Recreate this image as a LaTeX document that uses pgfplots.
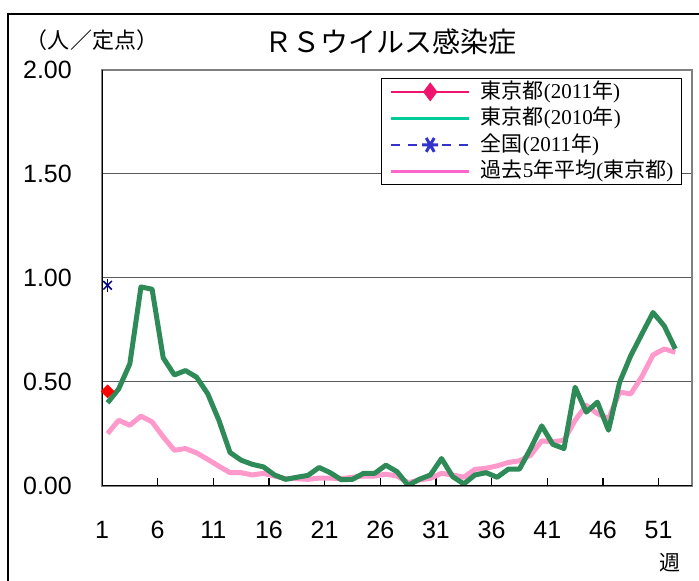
\documentclass[border=0pt]{standalone}
\usepackage{fontspec}
\setmainfont{Liberation Sans}
\newfontfamily\cjk{Noto Sans CJK JP}
\newfontfamily\sr{Liberation Serif}
\usepackage{pgfplots}
\pgfplotsset{compat=1.18}

\definecolor{gline}{RGB}{46,139,87}
\definecolor{gleg}{RGB}{0,204,153}
\definecolor{pline}{RGB}{255,153,204}
\definecolor{pleg}{RGB}{255,102,204}
\definecolor{rleg}{RGB}{240,20,110}
\definecolor{bleg}{RGB}{51,51,204}
\definecolor{bstar}{RGB}{0,0,128}
\definecolor{gridc}{RGB}{90,90,90}

% week, value
\pgfplotstableread{
w v
1 0.400
2 0.467
3 0.587
4 0.957
5 0.946
6 0.616
7 0.534
8 0.555
9 0.523
10 0.443
11 0.316
12 0.161
13 0.124
14 0.104
15 0.092
16 0.053
17 0.032
18 0.042
19 0.051
20 0.089
21 0.064
22 0.030
23 0.032
24 0.061
25 0.061
26 0.100
27 0.069
28 0.003
29 0.032
30 0.053
31 0.132
32 0.045
33 0.010
34 0.053
35 0.064
36 0.042
37 0.081
38 0.081
39 0.180
40 0.289
41 0.200
42 0.180
43 0.475
44 0.355
45 0.403
46 0.268
47 0.499
48 0.627
49 0.731
50 0.834
51 0.770
52 0.659
}\tokyoten

\pgfplotstableread{
w v
1 0.252
2 0.316
3 0.292
4 0.336
5 0.308
6 0.236
7 0.172
8 0.180
9 0.159
10 0.128
11 0.095
12 0.064
13 0.064
14 0.053
15 0.061
16 0.048
17 0.035
18 0.035
19 0.032
20 0.038
21 0.038
22 0.035
23 0.042
24 0.048
25 0.048
26 0.057
27 0.048
28 0.016
29 0.029
30 0.037
31 0.061
32 0.053
33 0.042
34 0.080
35 0.085
36 0.097
37 0.113
38 0.121
39 0.148
40 0.217
41 0.212
42 0.220
43 0.316
44 0.388
45 0.348
46 0.324
47 0.451
48 0.443
49 0.526
50 0.630
51 0.659
52 0.643
}\fiveyear

\begin{document}
\begin{tikzpicture}[x=1bp,y=1bp]
\useasboundingbox (0,0) rectangle (699,581);
\draw[line width=1.5bp] (8,-10) -- (8,567) -- (710,567);

\begin{axis}[
    at={(102bp,95bp)}, anchor=south west,
    scale only axis, width=590bp, height=416bp,
    xmin=0.5, xmax=53.5,
    ymin=0, ymax=2,
    xtick={0.5,5.5,...,50.5},
    xticklabels={1,6,11,16,21,26,31,36,41,46,51},
    ytick={0,0.5,1,1.5,2},
    yticklabels={0.00,0.50,1.00,1.50,2.00},
    xtick pos=bottom, ytick pos=left,
    tick align=inside,
    major tick length=8bp,
    xtick style={black, line width=1.2bp},
    ytick style={draw=none},
    ymajorgrids=true,
    major grid style={gridc, line width=1bp},
    axis line style={draw=gray, line width=2bp},
    ticklabel style={font=\fontsize{25bp}{30bp}\selectfont, inner sep=0pt},
    yticklabel style={anchor=east, xshift=-30bp},
    xticklabel style={anchor=north, yshift=-35bp},
    /pgf/number format/assume math mode=true,
    legend image code/.code={\draw[mark repeat=2,mark phase=2,#1] plot coordinates {(0bp,0bp) (39bp,0bp) (78bp,0bp)};},
    legend style={at={(0.983,0.981)}, anchor=north east, draw=black, line width=1bp,
        font=\fontsize{21bp}{25bp}\selectfont, inner xsep=8bp, inner ysep=3bp,
        row sep=5.5bp, column sep=10bp,
        nodes={inner sep=0pt, text height=17bp, text depth=4bp}},
    legend cell align=left,
]
\addlegendimage{rleg, line width=2.5bp, mark=diamond*, mark size=7.5bp, mark options={solid}}
\addlegendentry{{\cjk 東京都}{\sr (2011}{\cjk 年}{\sr )}}
\addlegendimage{gleg, line width=3.5bp}
\addlegendentry{{\cjk 東京都}{\sr (2010}{\cjk 年}{\sr )}}
\addlegendimage{bleg, line width=2.5bp, dash pattern=on 9bp off 8bp, mark=asterisk, mark size=8bp, mark options={solid, line width=3bp, rotate=90}}
\addlegendentry{{\cjk 全国}{\sr (2011}{\cjk 年}{\sr )}}
\addlegendimage{pleg, line width=3bp}
\addlegendentry{{\cjk 過去}{\sr 5}{\cjk 年平均}{\sr (}{\cjk 東京都}{\sr )}}

\addplot[pline, line width=5bp, line join=round, forget plot] table[x=w, y=v] {\fiveyear};
\addplot[gline, line width=5bp, line join=round, forget plot] table[x=w, y=v] {\tokyoten};
\addplot[only marks, red, mark=square*, mark size=4.6bp, mark options={rotate=45}, forget plot] coordinates {(1,0.455)};
\addplot[only marks, bstar, mark=x, mark size=6bp, mark options={line width=1.5bp}, forget plot] coordinates {(1,0.965)};
\addplot[only marks, bstar, mark=|, mark size=6.5bp, mark options={line width=1.5bp}, forget plot] coordinates {(1,0.965)};

\draw[black, line width=2bp] (axis cs:0.5,2) -- (axis cs:0.5,0) -- (axis cs:53.5,0);
\end{axis}

\node[font=\cjk\fontsize{28bp}{32bp}\selectfont] at (390,539) {ＲＳウイルス感染症};
\node[font=\cjk\fontsize{22bp}{26bp}\selectfont] at (92,541) {（人／定点）};
\node[font=\cjk\fontsize{21bp}{25bp}\selectfont] at (670,18) {週};
\end{tikzpicture}
\end{document}
